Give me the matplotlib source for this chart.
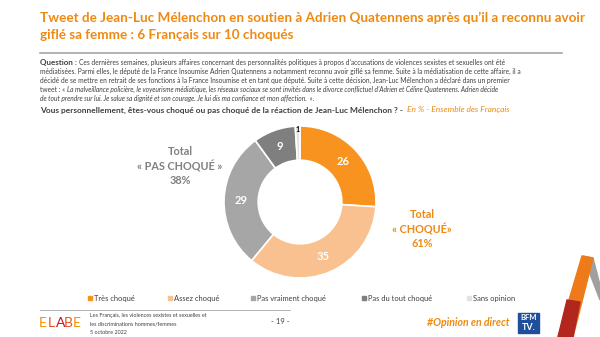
import numpy as np
import matplotlib.pyplot as plt
from matplotlib.patches import Rectangle, Polygon

plt.rcParams['font.family'] = ['Lato', 'DejaVu Sans']

categories = ['Très choqué', 'Assez choqué', 'Pas vraiment choqué',
              'Pas du tout choqué', 'Sans opinion']
values = [26, 35, 29, 9, 1]
colors = ['#F7931E', '#F9C18F', '#A6A6A6', '#7F7F7F', '#E3E3E3']
label_colors = ['white', 'white', 'white', 'white', 'black']

total_choque = 61
total_pas_choque = 38

W, H = 600, 337
fig = plt.figure(figsize=(6, 3.37), dpi=100)
fig.patch.set_facecolor('white')
renderer = fig.canvas.get_renderer()


def fx(x):
    return x / W


def fy(y):
    return 1 - y / H


def txt(x, y, s, **kw):
    return fig.text(fx(x), fy(y), s, **kw)


def right_px(t):
    # right edge of a text artist, in pixels from the left
    return t.get_window_extent(renderer).x1


ORANGE = '#EE8A12'
GREY = '#808080'
TEXT = '#404040'

# title
txt(40, 18, "Tweet de Jean-Luc Mélenchon en soutien à Adrien Quatennens après qu’il a reconnu avoir",
    fontsize=9.75, fontweight='bold', color=ORANGE, va='center')
txt(40, 35, "giflé sa femme : 6 Français sur 10 choqués",
    fontsize=9.75, fontweight='bold', color=ORANGE, va='center')
fig.add_artist(plt.Line2D([fx(40), fx(562)], [fy(53), fy(53)], color='#A6A6A6', lw=1.2))

# question text
QS = 4.75
q = txt(40, 62, "Question : ", fontsize=5.8, fontweight='bold', color=TEXT, va='center')
txt(right_px(q), 62,
    "Ces dernières semaines, plusieurs affaires concernant des personnalités politiques à propos d’accusations de violences sexistes et sexuelles ont été",
    fontsize=QS, color=TEXT, va='center')
txt(40, 71, "médiatisées. Parmi elles, le député de la France Insoumise Adrien Quatennens a notamment reconnu avoir giflé sa femme. Suite à la médiatisation de cette affaire, il a",
    fontsize=QS, color=TEXT, va='center')
txt(40, 80, "décidé de se mettre en retrait de ses fonctions à la France Insoumise et en tant que député. Suite à cette décision, Jean-Luc Mélenchon a déclaré dans un premier",
    fontsize=QS, color=TEXT, va='center')
t = txt(40, 89, "tweet : « ", fontsize=QS, color=TEXT, va='center')
txt(right_px(t), 89,
    "La malveillance policière, le voyeurisme médiatique, les réseaux sociaux se sont invités dans le divorce conflictuel d’Adrien et Céline Quatennens. Adrien décide",
    fontsize=QS, color=TEXT, va='center', style='italic')
t = txt(40, 98, "de tout prendre sur lui. Je salue sa dignité et son courage. Je lui dis ma confiance et mon affection. ",
        fontsize=QS, color=TEXT, va='center', style='italic')
txt(right_px(t), 98, " ».", fontsize=QS, color=TEXT, va='center')
t = txt(40, 110, "Vous personnellement, êtes-vous choqué ou pas choqué de la réaction de Jean-Luc Mélenchon ? -  ",
        fontsize=6.0, fontweight='bold', color=TEXT, va='center')
txt(right_px(t), 110, "En % - Ensemble des Français", fontsize=6.0, style='italic', color=ORANGE, va='center')

# donut
cx, cy, r = 300, 202, 76
ax = fig.add_axes([fx(cx - r), fy(cy + r), 2 * r / W, 2 * r / H])
wedges, _ = ax.pie(values, colors=colors, startangle=90, counterclock=False,
                   radius=1, wedgeprops=dict(width=0.45, edgecolor='white', linewidth=1.2))
angle = 90.0
for v, lc in zip(values, label_colors):
    span = v / sum(values) * 360
    mid = np.deg2rad(angle - span / 2)
    angle -= span
    if v == 1:
        ax.text(0.99 * np.cos(mid), 0.99 * np.sin(mid) - 0.04, str(v), fontsize=5,
                fontweight='bold', color=lc, ha='center', va='center')
    else:
        ax.text(0.78 * np.cos(mid), 0.78 * np.sin(mid), str(v), fontsize=8,
                fontweight='bold', color=lc, ha='center', va='center')
ax.set_xlim(-1, 1)
ax.set_ylim(-1, 1)
ax.set_aspect('equal')
ax.axis('off')

# totals
txt(180, 166, "Total\n« PAS CHOQUÉ »\n%d%%" % total_pas_choque, fontsize=7.8, fontweight='bold',
    color=GREY, ha='center', va='center', linespacing=1.3)
txt(422, 229, "Total\n« CHOQUÉ»\n%d%%" % total_choque, fontsize=7.8, fontweight='bold',
    color=ORANGE, ha='center', va='center', linespacing=1.3)

# legend
leg_x = [88, 168, 251, 362, 467]
for x, c, name in zip(leg_x, colors, categories):
    fig.add_artist(Rectangle((fx(x), fy(300)), 4 / W, 4 / H, color=c))
    txt(x + 6, 298, name, fontsize=5.4, color=TEXT, va='center')

# footer
fig.add_artist(plt.Line2D([fx(40), fx(290)], [fy(310), fy(310)], color='#A6A6A6', lw=0.6))
elabe_cols = ['#F29100', '#E8541E', '#C8102E', '#E8541E', '#F29100']
for i, (ch, c) in enumerate(zip('ELABE', elabe_cols)):
    txt(39 + i * 8.4, 323, ch, fontsize=10, color=c, va='center')
txt(90, 316, "Les Français, les violences sexistes et sexuelles et", fontsize=3.9, color=TEXT, va='center')
txt(90, 324, "les discriminations hommes/femmes", fontsize=3.9, color=TEXT, va='center')
txt(90, 332, "5 octobre 2022", fontsize=3.9, color=TEXT, va='center')
txt(280, 322, "- 19 -", fontsize=5.5, color=TEXT, va='center', ha='center')
txt(427, 322, "#Opinion en direct", fontsize=7.6, color=ORANGE, va='center', ha='left',
    fontweight='bold', style='italic')

# BFM TV logo
fig.add_artist(Rectangle((fx(518), fy(333)), 21 / W, 20 / H, color='#1F4E9A'))
txt(528.5, 318, "BFM", fontsize=5.5, color='white', fontweight='bold', ha='center', va='center')
txt(528.5, 328, "TV.", fontsize=6.5, color='white', fontweight='bold', ha='center', va='center')

# corner mark
fig.add_artist(Polygon([(fx(583), fy(256)), (fx(593), fy(258)), (fx(600), fy(285)),
                        (fx(600), fy(300))], closed=True, color='#A0A0A0'))
fig.add_artist(Polygon([(fx(582), fy(256)), (fx(593), fy(258)), (fx(573), fy(337)),
                        (fx(558), fy(337))], closed=True, color='#EE7A1A'))
fig.add_artist(Polygon([(fx(567), fy(300)), (fx(580), fy(302)), (fx(573), fy(337)),
                        (fx(558), fy(337))], closed=True, color='#B3261E'))

fig.savefig('out.png', dpi=100, facecolor='white')
